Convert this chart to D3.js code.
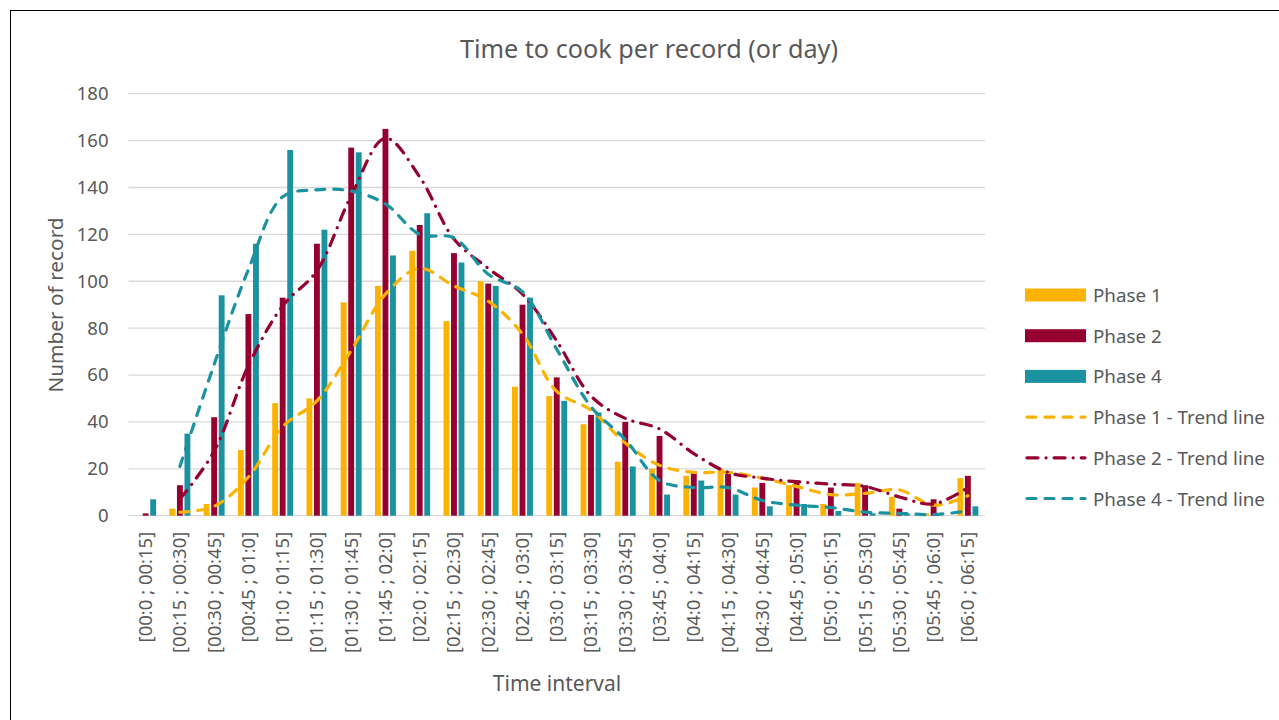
<!DOCTYPE html>
<html>
<head>
<meta charset="utf-8">
<script src="https://cdn.jsdelivr.net/npm/d3@7"></script>
<style>
    body { margin: 0; background: #fff; }
    svg text { font-family: "Noto Sans", "Open Sans", sans-serif; fill: #595959; }
    .grid line { stroke: #d9d9d9; stroke-width: 1.3; }
    .tick-label { font-size: 18.5px; }
    .legend-label { font-size: 18.8px; }
</style>
</head>
<body>
<div id="chart"></div>
<script>
// Categories (15 min intervals)
const categories = [
    '[00:0 ; 00:15]', '[00:15 ; 00:30]', '[00:30 ; 00:45]', '[00:45 ; 01:0]',
    '[01:0 ; 01:15]', '[01:15 ; 01:30]', '[01:30 ; 01:45]', '[01:45 ; 02:0]',
    '[02:0 ; 02:15]', '[02:15 ; 02:30]', '[02:30 ; 02:45]', '[02:45 ; 03:0]',
    '[03:0 ; 03:15]', '[03:15 ; 03:30]', '[03:30 ; 03:45]', '[03:45 ; 04:0]',
    '[04:0 ; 04:15]', '[04:15 ; 04:30]', '[04:30 ; 04:45]', '[04:45 ; 05:0]',
    '[05:0 ; 05:15]', '[05:15 ; 05:30]', '[05:30 ; 05:45]', '[05:45 ; 06:0]',
    '[06:0 ; 06:15]'
];

// Bar values
const phase1 = [0, 3, 5, 28, 48, 50, 91, 98, 113, 83, 100, 55, 51, 39, 23, 20, 17, 20, 12, 13, 5, 14, 8, 1, 16];
const phase2 = [1, 13, 42, 86, 93, 116, 157, 165, 124, 112, 99, 90, 59, 43, 40, 34, 19, 18, 14, 15, 12, 13, 3, 7, 17];
const phase4 = [7, 35, 94, 116, 156, 122, 155, 111, 129, 108, 98, 93, 49, 44, 21, 9, 15, 9, 4, 5, 2, 1, 1, 0, 4];

// Trend lines (2 period moving average in the original), first category has no point
const trend1 = [null, 1.5, 4, 16.5, 38, 49, 70.5, 94.5, 105.5, 98, 91.5, 77.5, 53, 45, 31, 21.5, 18.5, 18.5, 16, 12.5, 9, 9.5, 11, 4.5, 8.5];
const trend2 = [null, 7, 27.5, 64, 89.5, 104.5, 136.5, 161, 144.5, 118, 105.5, 94.5, 74.5, 51, 41.5, 37, 26.5, 18.5, 16, 14.5, 13.5, 12.5, 8, 5, 12];
const trend4 = [null, 21, 64.5, 105, 136, 139, 138.5, 133, 120, 118.5, 103, 95.5, 71, 46.5, 32.5, 15, 12, 12, 6.5, 4.5, 3.5, 1.5, 1, 0.5, 2];

const yTicks = [0, 20, 40, 60, 80, 100, 120, 140, 160, 180];

const seriesNames = ['Phase 1', 'Phase 2', 'Phase 4'];
const trendNames = ['Phase 1 - Trend line', 'Phase 2 - Trend line', 'Phase 4 - Trend line'];

const colors = {
    p1: '#fbb200',
    p2: '#960030',
    p4: '#1b929f'
};

const width = 1279;
const height = 720;
const margin = { left: 128.5, right: 985, top: 93.7, bottom: 515.7 };

const svg = d3.select('#chart')
    .append('svg')
    .attr('width', width)
    .attr('height', height);

// outer chart border
svg.append('rect')
    .attr('x', 10.5)
    .attr('y', 10.5)
    .attr('width', width + 20)
    .attr('height', height + 20)
    .attr('fill', '#fff')
    .attr('stroke', '#000')
    .attr('stroke-width', 1);

const x = d3.scaleBand()
    .domain(categories)
    .range([margin.left, margin.right])
    .paddingInner(0.39)
    .paddingOuter(0.195);

const xInner = d3.scaleBand()
    .domain(d3.range(3))
    .range([0, x.bandwidth()])
    .paddingInner(0.22);

const y = d3.scaleLinear()
    .domain([0, 180])
    .range([margin.bottom, margin.top]);

// grid
const grid = svg.append('g').attr('class', 'grid');
grid.selectAll('line')
    .data(yTicks)
    .enter()
    .append('line')
    .attr('x1', margin.left)
    .attr('x2', margin.right)
    .attr('y1', d => y(d))
    .attr('y2', d => y(d));

// y axis labels
const yAxis = svg.append('g')
    .attr('transform', `translate(${margin.left - 20},0)`)
    .call(d3.axisLeft(y).tickValues(yTicks).tickSize(0).tickPadding(0));
yAxis.select('.domain').remove();
yAxis.attr('font-family', null).attr('font-size', null);
yAxis.selectAll('text')
    .attr('class', 'tick-label')
    .attr('fill', null);

// x axis labels
const xAxis = svg.append('g')
    .attr('transform', `translate(0,${margin.bottom})`)
    .call(d3.axisBottom(x).tickSize(0).tickPadding(0));
xAxis.select('.domain').remove();
xAxis.attr('font-family', null).attr('font-size', null);
xAxis.selectAll('text')
    .attr('class', 'tick-label')
    .attr('fill', null)
    .attr('text-anchor', 'end')
    .attr('dy', '0.35em')
    .attr('y', 0)
    .attr('transform', 'translate(0,16) rotate(-90)');

// bars
const seriesData = [phase1, phase2, phase4];
const seriesColors = [colors.p1, colors.p2, colors.p4];
const barGroups = svg.append('g');
categories.forEach((cat, i) => {
    seriesData.forEach((series, s) => {
        barGroups.append('rect')
            .attr('x', x(cat) + xInner(s))
            .attr('width', xInner.bandwidth())
            .attr('y', y(series[i]))
            .attr('height', y(0) - y(series[i]))
            .attr('fill', seriesColors[s]);
    });
});

// trend lines
const trendLine = d3.line()
    .defined(d => d.v !== null)
    .x(d => x(d.c) + x.bandwidth() / 2)
    .y(d => y(d.v))
    .curve(d3.curveCatmullRom.alpha(0.5));

const trends = [
    { data: trend1, color: colors.p1, dash: '9,9' },
    { data: trend2, color: colors.p2, dash: '11,8,0.1,8' },
    { data: trend4, color: colors.p4, dash: '9,9' }
];

trends.forEach(t => {
    svg.append('path')
        .datum(categories.map((c, i) => ({ c: c, v: t.data[i] })))
        .attr('d', trendLine)
        .attr('fill', 'none')
        .attr('stroke', t.color)
        .attr('stroke-width', 3.2)
        .attr('stroke-linecap', 'round')
        .attr('stroke-dasharray', t.dash);
});

// titles
svg.append('text')
    .attr('x', 649)
    .attr('y', 48)
    .attr('text-anchor', 'middle')
    .attr('dominant-baseline', 'central')
    .style('font-size', '25.2px')
    .text('Time to cook per record (or day)');

svg.append('text')
    .attr('transform', 'translate(55,305) rotate(-90)')
    .attr('text-anchor', 'middle')
    .attr('dominant-baseline', 'central')
    .style('font-size', '20.8px')
    .text('Number of record');

svg.append('text')
    .attr('x', 557)
    .attr('y', 683)
    .attr('text-anchor', 'middle')
    .attr('dominant-baseline', 'central')
    .style('font-size', '21px')
    .text('Time interval');

// legend
const legend = svg.append('g').attr('transform', 'translate(1025,295)');
const rowGap = 40.7;

seriesNames.forEach((name, i) => {
    const row = legend.append('g').attr('transform', `translate(0,${i * rowGap})`);
    row.append('rect')
        .attr('x', 0)
        .attr('y', -6.5)
        .attr('width', 61)
        .attr('height', 13)
        .attr('fill', seriesColors[i]);
    row.append('text')
        .attr('class', 'legend-label')
        .attr('x', 68)
        .attr('dominant-baseline', 'central')
        .text(name);
});

trendNames.forEach((name, i) => {
    const row = legend.append('g').attr('transform', `translate(0,${(i + 3) * rowGap})`);
    row.append('line')
        .attr('x1', 2)
        .attr('x2', 60)
        .attr('stroke', trends[i].color)
        .attr('stroke-width', 3.2)
        .attr('stroke-linecap', 'round')
        .attr('stroke-dasharray', trends[i].dash);
    row.append('text')
        .attr('class', 'legend-label')
        .attr('x', 68)
        .attr('dominant-baseline', 'central')
        .text(name);
});
</script>
</body>
</html>
